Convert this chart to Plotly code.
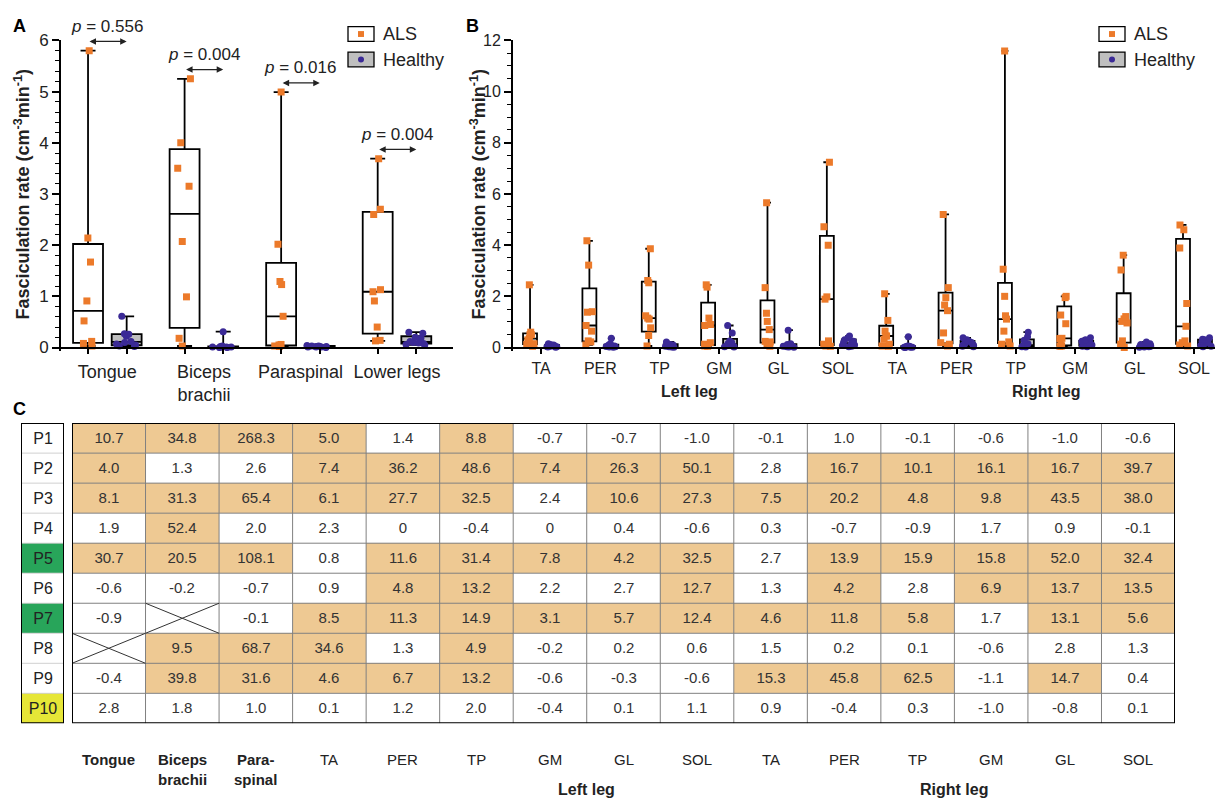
import numpy as np
import plotly.graph_objects as go

# ---------------- DATA ----------------
A_CATS = ["Tongue", "Biceps<br>brachii", "Paraspinal", "Lower legs"]
A_ALS = [
    [5.80, 2.14, 1.67, 0.91, 0.52, 0.12, 0.08, 0.03],
    [5.25, 4.00, 3.50, 3.15, 2.07, 0.99, 0.18, 0.03],
    [4.99, 2.02, 1.29, 1.23, 0.61, 0.06, 0.05, 0.03, 0.02],
    [3.69, 2.70, 2.60, 1.13, 1.09, 0.91, 0.40, 0.14, 0.13],
]
A_HEALTHY = [
    [0.61, 0.27, 0.26, 0.22, 0.12, 0.10, 0.07, 0.05, 0.03, 0.02],
    [0.31, 0.03, 0.02, 0.02, 0.01, 0.01, 0.01, 0.01, 0.00, 0.00],
    [0.04, 0.03, 0.03, 0.02, 0.02, 0.02, 0.01, 0.01, 0.01, 0.00],
    [0.30, 0.28, 0.20, 0.18, 0.12, 0.10, 0.09, 0.08, 0.06, 0.05],
]
A_PVALUES = ["0.556", "0.004", "0.016", "0.004"]

B_CATS = ["TA", "PER", "TP", "GM", "GL", "SOL", "TA", "PER", "TP", "GM", "GL", "SOL"]
B_GROUPS = ["Left leg", "Right leg"]
B_ALS = [
    [2.45, 0.60, 0.50, 0.50, 0.35, 0.30, 0.15, 0.12, 0.05],
    [4.17, 3.22, 1.40, 1.38, 0.86, 0.64, 0.26, 0.22, 0.10],
    [3.86, 2.62, 2.53, 1.24, 1.15, 1.11, 0.77, 0.47, 0.06],
    [2.45, 2.36, 1.15, 0.90, 0.86, 0.19, 0.13, 0.06, 0.05],
    [5.66, 2.34, 1.34, 1.02, 0.70, 0.24, 0.22, 0.16, 0.05],
    [7.24, 4.72, 4.00, 1.98, 1.89, 0.26, 0.13, 0.06, 0.05],
    [2.10, 1.06, 0.64, 0.45, 0.45, 0.32, 0.13, 0.06, 0.05],
    [5.20, 2.34, 1.95, 1.66, 1.44, 0.57, 0.19, 0.13, 0.06],
    [11.59, 3.06, 2.00, 1.24, 1.11, 0.64, 0.22, 0.13, 0.06],
    [2.00, 1.95, 1.27, 0.93, 0.36, 0.35, 0.10, 0.06, 0.05],
    [3.61, 3.03, 1.21, 1.12, 1.02, 0.96, 0.26, 0.13, 0.00],
    [4.79, 4.60, 3.89, 1.72, 0.83, 0.26, 0.19, 0.10, 0.06],
]
B_HEALTHY = [
    [0.15, 0.12, 0.10, 0.08, 0.06, 0.05, 0.04, 0.03, 0.02, 0.01],
    [0.36, 0.15, 0.10, 0.08, 0.06, 0.05, 0.04, 0.03, 0.02, 0.01],
    [0.22, 0.15, 0.12, 0.10, 0.08, 0.06, 0.05, 0.03, 0.02, 0.01],
    [0.86, 0.57, 0.26, 0.20, 0.15, 0.10, 0.08, 0.05, 0.03, 0.02],
    [0.68, 0.15, 0.12, 0.10, 0.08, 0.06, 0.05, 0.03, 0.02, 0.01],
    [0.45, 0.38, 0.30, 0.25, 0.20, 0.15, 0.10, 0.08, 0.05, 0.03],
    [0.42, 0.06, 0.05, 0.04, 0.03, 0.02, 0.02, 0.01, 0.01, 0.00],
    [0.38, 0.30, 0.25, 0.20, 0.15, 0.12, 0.10, 0.08, 0.05, 0.03],
    [0.60, 0.42, 0.28, 0.15, 0.10, 0.08, 0.06, 0.04, 0.03, 0.02],
    [0.38, 0.30, 0.25, 0.20, 0.15, 0.12, 0.10, 0.08, 0.05, 0.03],
    [0.22, 0.15, 0.12, 0.10, 0.08, 0.06, 0.05, 0.03, 0.02, 0.01],
    [0.38, 0.32, 0.30, 0.25, 0.20, 0.15, 0.10, 0.08, 0.05, 0.03],
]

C_ROWS = ["P1", "P2", "P3", "P4", "P5", "P6", "P7", "P8", "P9", "P10"]
C_ROW_FLAG = [0, 0, 0, 0, 1, 0, 1, 0, 0, 2]
C_COLS = ["Tongue", "Biceps<br>brachii", "Para-<br>spinal", "TA", "PER", "TP", "GM", "GL", "SOL",
          "TA", "PER", "TP", "GM", "GL", "SOL"]
C_GROUPS = ["Left leg", "Right leg"]
C_VALUES = [
    [10.7, 34.8, 268.3, 5.0, 1.4, 8.8, -0.7, -0.7, -1.0, -0.1, 1.0, -0.1, -0.6, -1.0, -0.6],
    [4.0, 1.3, 2.6, 7.4, 36.2, 48.6, 7.4, 26.3, 50.1, 2.8, 16.7, 10.1, 16.1, 16.7, 39.7],
    [8.1, 31.3, 65.4, 6.1, 27.7, 32.5, 2.4, 10.6, 27.3, 7.5, 20.2, 4.8, 9.8, 43.5, 38.0],
    [1.9, 52.4, 2.0, 2.3, 0, -0.4, 0, 0.4, -0.6, 0.3, -0.7, -0.9, 1.7, 0.9, -0.1],
    [30.7, 20.5, 108.1, 0.8, 11.6, 31.4, 7.8, 4.2, 32.5, 2.7, 13.9, 15.9, 15.8, 52.0, 32.4],
    [-0.6, -0.2, -0.7, 0.9, 4.8, 13.2, 2.2, 2.7, 12.7, 1.3, 4.2, 2.8, 6.9, 13.7, 13.5],
    [-0.9, None, -0.1, 8.5, 11.3, 14.9, 3.1, 5.7, 12.4, 4.6, 11.8, 5.8, 1.7, 13.1, 5.6],
    [None, 9.5, 68.7, 34.6, 1.3, 4.9, -0.2, 0.2, 0.6, 1.5, 0.2, 0.1, -0.6, 2.8, 1.3],
    [-0.4, 39.8, 31.6, 4.6, 6.7, 13.2, -0.6, -0.3, -0.6, 15.3, 45.8, 62.5, -1.1, 14.7, 0.4],
    [2.8, 1.8, 1.0, 0.1, 1.2, 2.0, -0.4, 0.1, 1.1, 0.9, -0.4, 0.3, -1.0, -0.8, 0.1],
]
ABNORMAL_THRESHOLD = 3.0

# ---------------- STYLE ----------------
W, H = 1218, 800
FONT = "Liberation Sans, Arial, Helvetica, sans-serif"
ORANGE = "#EC7A2A"
PURPLE = "#3B2A96"
GRAY = "#BFBFBF"
CELL_ORANGE = "#EEC993"
GREEN = "#28A55A"
YELLOW = "#E6E637"
TXT = "#222222"


def X(p):
    return p / W


def Y(p):
    return 1 - p / H


def quart(v):
    s = sorted(v)
    n = len(s)

    def q(p):
        h = p * (n + 1)
        if h <= 1:
            return s[0]
        if h >= n:
            return s[-1]
        lo = int(np.floor(h))
        f = h - lo
        return s[lo - 1] + f * (s[lo] - s[lo - 1])

    return q(0.25), q(0.5), q(0.75), s[0], s[-1]


fig = go.Figure()


def add_panel(xr, yr, als, healthy, off, width, msize, jit_als, jit_h):
    pos = np.arange(len(als))
    for data, sign, fill, color, sym, jit in [
        (als, -1, "white", ORANGE, "square", jit_als),
        (healthy, 1, GRAY, PURPLE, "circle", jit_h),
    ]:
        stats = [quart(v) for v in data]
        q1, med, q3, lo, hi = [list(t) for t in zip(*stats)]
        xpos = pos + sign * off
        fig.add_trace(go.Box(
            x=xpos, q1=q1, median=med, q3=q3, lowerfence=lo, upperfence=hi,
            width=width, fillcolor=fill, line=dict(color="black", width=1.8),
            whiskerwidth=0.5, boxpoints=False, xaxis=xr, yaxis=yr,
            showlegend=False, hoverinfo="skip"))
        px = np.concatenate([[xp] * len(v) for xp, v in zip(xpos, data)])
        py = np.concatenate([np.array(v, float) for v in data])
        fig.add_trace(go.Box(
            x=px, y=py, boxpoints="all", jitter=jit, pointpos=0, width=width,
            fillcolor="rgba(0,0,0,0)", line=dict(color="rgba(0,0,0,0)", width=0),
            marker=dict(color=color, symbol=sym, size=msize),
            xaxis=xr, yaxis=yr, showlegend=False, hoverinfo="skip"))
    return pos


A_OFF, A_W = 0.2, 0.31
B_OFF, B_W = 0.185, 0.235
A_YR = [-0.07, 6]
B_YR = [-0.14, 12]
posA = add_panel("x", "y", A_ALS, A_HEALTHY, A_OFF, A_W, 7, 0.5, 1.0)
posB = add_panel("x2", "y2", B_ALS, B_HEALTHY, B_OFF, B_W, 7, 0.75, 1.0)

# ---------------- TABLE (panel C) ----------------
def fmt(v):
    if v is None:
        return ""
    if v == 0:
        return "0"
    return f"{v:.1f}"


zC = [[1 if (v is not None and v > ABNORMAL_THRESHOLD) else 0 for v in row] for row in C_VALUES]
tC = [[fmt(v) for v in row] for row in C_VALUES]
fig.add_trace(go.Heatmap(
    z=zC, text=tC, texttemplate="%{text}", textfont=dict(size=15, color="#333333", family=FONT),
    colorscale=[[0, "white"], [1, CELL_ORANGE]], zmin=0, zmax=1, showscale=False,
    xaxis="x3", yaxis="y3", hoverinfo="skip"))
fig.add_trace(go.Heatmap(
    z=[[f] for f in C_ROW_FLAG], text=[[r] for r in C_ROWS], texttemplate="%{text}",
    textfont=dict(size=16, color=TXT, family=FONT),
    colorscale=[[0, "white"], [0.5, GREEN], [1, YELLOW]], zmin=0, zmax=2, showscale=False,
    xaxis="x4", yaxis="y4", hoverinfo="skip"))

nR, nC = len(C_VALUES), len(C_VALUES[0])
shapes = []
for j in range(1, nC):
    shapes.append(dict(type="line", xref="x3", yref="y3", x0=j - 0.5, x1=j - 0.5, y0=-0.5, y1=nR - 0.5,
                       line=dict(color="#808080", width=1)))
for i in range(1, nR):
    shapes.append(dict(type="line", xref="x3", yref="y3", x0=-0.5, x1=nC - 0.5, y0=i - 0.5, y1=i - 0.5,
                       line=dict(color="#808080", width=1)))
    shapes.append(dict(type="line", xref="x4", yref="y4", x0=-0.5, x1=0.5, y0=i - 0.5, y1=i - 0.5,
                       line=dict(color="#d0d0d0", width=1)))
for i, row in enumerate(C_VALUES):
    for j, v in enumerate(row):
        if v is None:
            shapes.append(dict(type="line", xref="x3", yref="y3", x0=j - 0.5, x1=j + 0.5, y0=i - 0.5, y1=i + 0.5,
                               line=dict(color="#333", width=1)))
            shapes.append(dict(type="line", xref="x3", yref="y3", x0=j - 0.5, x1=j + 0.5, y0=i + 0.5, y1=i - 0.5,
                               line=dict(color="#333", width=1)))
shapes.append(dict(type="rect", xref="x3", yref="y3", x0=-0.5, x1=nC - 0.5, y0=-0.5, y1=nR - 0.5,
                   line=dict(color="black", width=2)))
shapes.append(dict(type="rect", xref="x4", yref="y4", x0=-0.5, x1=0.5, y0=-0.5, y1=nR - 0.5,
                   line=dict(color="black", width=2)))

# custom legends
for lx, tx in [(348, 381), (1099, 1132)]:
    shapes.append(dict(type="rect", xref="paper", yref="paper", x0=X(lx), x1=X(lx + 26), y0=Y(33), y1=Y(18),
                       fillcolor="white", line=dict(color="black", width=1.3)))
    shapes.append(dict(type="rect", xref="paper", yref="paper", x0=X(lx + 10), x1=X(lx + 16), y0=Y(28.5), y1=Y(22.5),
                       fillcolor=ORANGE, line=dict(width=0)))
    shapes.append(dict(type="rect", xref="paper", yref="paper", x0=X(lx), x1=X(lx + 26), y0=Y(59), y1=Y(44),
                       fillcolor=GRAY, line=dict(color="black", width=1.3)))
    shapes.append(dict(type="circle", xref="paper", yref="paper", x0=X(lx + 10), x1=X(lx + 16), y0=Y(54.5), y1=Y(48.5),
                       fillcolor=PURPLE, line=dict(width=0)))

ann = []
for lx, tx in [(348, 381), (1099, 1132)]:
    ann.append(dict(x=X(tx), y=Y(25.5), xref="paper", yref="paper", text="ALS", showarrow=False,
                    xanchor="left", yanchor="middle", font=dict(size=18, color=TXT)))
    ann.append(dict(x=X(tx), y=Y(51.5), xref="paper", yref="paper", text="Healthy", showarrow=False,
                    xanchor="left", yanchor="middle", font=dict(size=18, color=TXT)))

# panel letters
for letter, lx, ly in [("A", 19, 17), ("B", 472, 17), ("C", 19, 408)]:
    ann.append(dict(x=X(lx), y=Y(ly), xref="paper", yref="paper", text=f"<b>{letter}</b>", showarrow=False,
                    xanchor="center", yanchor="middle", font=dict(size=18, color="black")))

# y-axis titles
ytitle = "<b>Fasciculation rate (cm<sup>-3</sup>min<sup>-1</sup>)</b>"
for lx in [22, 478]:
    ann.append(dict(x=X(lx), y=Y(189), xref="paper", yref="paper", text=ytitle, showarrow=False,
                    textangle=-90, xanchor="center", yanchor="middle", font=dict(size=18, color=TXT)))

y_dom = [Y(348.65), Y(32)]


def ya_to_paper(v):
    return y_dom[0] + (v - A_YR[0]) / (A_YR[1] - A_YR[0]) * (y_dom[1] - y_dom[0])


# p-value arrows
for i, p in enumerate(A_PVALUES):
    ya = max(A_ALS[i]) + 0.18
    ann.append(dict(x=i + A_OFF, y=ya, ax=i - A_OFF, ay=ya, xref="x", yref="y", axref="x", ayref="y",
                    text="", showarrow=True, arrowhead=2, startarrowhead=2, arrowside="end+start",
                    arrowsize=1, startarrowsize=1, arrowwidth=1.3, arrowcolor="#222", standoff=0, startstandoff=0))
    ann.append(dict(x=i, y=ya_to_paper(ya + 0.07), xref="x", yref="paper", text=f"<i>p</i> = {p}", showarrow=False,
                    xanchor="center", yanchor="bottom", font=dict(size=17, color=TXT)))

# B group labels
for g, name in enumerate(B_GROUPS):
    ann.append(dict(x=g * 6 + 2.5, y=Y(390), xref="x2", yref="paper", text=f"<b>{name}</b>", showarrow=False,
                    xanchor="center", yanchor="middle", font=dict(size=16, color=TXT)))

# table column labels
for j, name in enumerate(C_COLS):
    txt = f"<b>{name}</b>" if j < 3 else name
    ann.append(dict(x=j, y=Y(754), xref="x3", yref="paper", text=txt, showarrow=False,
                    xanchor="center", yanchor="top", align="center", font=dict(size=15, color=TXT)))
for name, cx in zip(C_GROUPS, [6.5, 11.5]):
    ann.append(dict(x=cx, y=Y(795), xref="x3", yref="paper", text=f"<b>{name}</b>", showarrow=False,
                    xanchor="center", yanchor="middle", font=dict(size=16, color=TXT)))

axis_common = dict(showline=True, linecolor="black", linewidth=1.8, showgrid=False, zeroline=False,
                   tickcolor="black", tickwidth=1.5, fixedrange=True)

fig.update_layout(
    width=W, height=H, margin=dict(l=0, r=0, t=0, b=0),
    paper_bgcolor="white", plot_bgcolor="white",
    font=dict(family=FONT, color=TXT),
    showlegend=False, boxmode="overlay",
    xaxis=dict(axis_common, domain=[X(61), X(453)], range=[-0.48, 3.58], anchor="free", position=Y(345),
               tickmode="array", tickvals=list(posA), ticktext=A_CATS, ticks="", tickfont=dict(size=18),
               ticklabelstandoff=8,
               minor=dict(tickmode="array", tickvals=list(posA - A_OFF) + list(posA + A_OFF),
                          ticks="outside", ticklen=6, tickwidth=1.5, tickcolor="black")),
    yaxis=dict(axis_common, domain=y_dom, range=A_YR, anchor="x", tickmode="linear", tick0=0, dtick=1,
               ticks="outside", ticklen=7, tickfont=dict(size=17),
               minor=dict(tick0=0, dtick=0.2, ticks="outside", ticklen=4, tickwidth=1.2, tickcolor="black")),
    xaxis2=dict(axis_common, domain=[X(513), X(1215)], range=[-0.472, 11.354], anchor="free", position=Y(345),
                tickmode="array", tickvals=list(posB), ticktext=B_CATS, ticks="outside", ticklen=6,
                tickfont=dict(size=16)),
    yaxis2=dict(axis_common, domain=y_dom, range=B_YR, anchor="x2", tickmode="linear", tick0=0, dtick=2,
                ticks="outside", ticklen=7, tickfont=dict(size=16),
                minor=dict(tick0=0, dtick=0.5, ticks="outside", ticklen=4, tickwidth=1.2, tickcolor="black")),
    xaxis3=dict(domain=[X(72), X(1175)], range=[-0.5, nC - 0.5], anchor="y3", visible=False, fixedrange=True),
    yaxis3=dict(domain=[Y(728), Y(422)], range=[nR - 0.5, -0.5], anchor="x3", visible=False, fixedrange=True),
    xaxis4=dict(domain=[X(21), X(64)], range=[-0.5, 0.5], anchor="y4", visible=False, fixedrange=True),
    yaxis4=dict(domain=[Y(728), Y(422)], range=[nR - 0.5, -0.5], anchor="x4", visible=False, fixedrange=True),
    shapes=shapes, annotations=ann,
)

fig.write_html("out.html", config={"displayModeBar": False},
               post_script="document.body.style.margin='0';document.body.style.overflow='hidden';")
